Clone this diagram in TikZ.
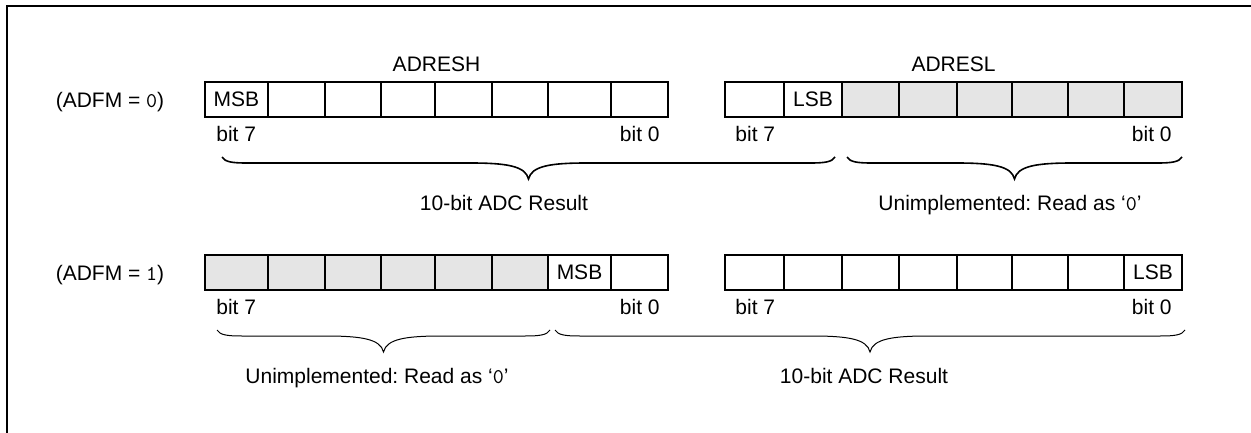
\documentclass[tikz,border=0pt]{standalone}
\usepackage{fontspec}
\setmainfont{Liberation Sans}
\frenchspacing

\tikzset{
  reg/.style={line width=1pt},
  unused/.style={fill=gray!20},
  lbl/.style={font=\fontsize{10.5}{12}\selectfont, inner sep=0pt, anchor=base},
}

% brace below a register: [style]{left x}{right x}{y of the ends}
\newcommand{\bracebelow}[4][]{%
  \draw[#1] (#2,#4) .. controls (#2+3,#4+5) and (#2+10,#4+6) .. (#2+25,#4+6)
    -- ({(#2+#3)/2-58},#4+6)
    .. controls ({(#2+#3)/2-22},#4+6) and ({(#2+#3)/2-3},#4+9) .. ({(#2+#3)/2},#4+22)
    .. controls ({(#2+#3)/2+3},#4+9) and ({(#2+#3)/2+22},#4+6) .. ({(#2+#3)/2+58},#4+6)
    -- (#3-25,#4+6)
    .. controls (#3-10,#4+6) and (#3-3,#4+5) .. (#3,#4);}

\begin{document}
\begin{tikzpicture}[x=0.5pt,y=-0.5pt]
  \useasboundingbox (0,0) rectangle (1251,433);
  \draw[line width=1pt] (6.5,433) -- (6.5,6.5) -- (1251,6.5);

  % shaded bits
  \fill[unused] (842,82) rectangle (1182,117);
  \fill[unused] (205,255) rectangle (548,290);

  % the two registers, for both settings
  \foreach \y in {82,255}{
    \draw[reg] (205,\y) rectangle (668,\y+35);
    \draw[reg] (725,\y) rectangle (1182,\y+35);
    \foreach \x in {268,325,381,435,492,548,611,784,842,899,957,1012,1068,1124}
      \draw[reg] (\x,\y) -- (\x,\y+35);
  }

  \node[lbl] (adresh) at (436.5,72) {ADRESH};
  \node[lbl] (adresl) at (953.5,72) {ADRESL};

  % ADFM = 0
  \node[lbl] (adfm0) at (110,107) {(ADFM = \texttt{0})};
  \node[lbl] (msb0) at (236.5,106.5) {MSB};
  \node[lbl] (lsb0) at (813,106.5) {LSB};
  \node[lbl,anchor=base west] (h7a) at (216,141.5) {bit 7};
  \node[lbl,anchor=base east] (h0a) at (660,141.5) {bit 0};
  \node[lbl,anchor=base west] (l7a) at (735,141.5) {bit 7};
  \node[lbl,anchor=base east] (l0a) at (1172,141.5) {bit 0};
  \bracebelow[line width=0.8pt]{222}{835}{157}
  \bracebelow[line width=0.8pt]{847}{1182}{157}
  \node[lbl] (resa) at (504,210) {10-bit ADC Result};
  \node[lbl] (unia) at (1010,210) {Unimplemented: Read as ‘\texttt{0}’};

  % ADFM = 1
  \node[lbl] (adfm1) at (110,280) {(ADFM = \texttt{1})};
  \node[lbl] (msb1) at (579.5,279.5) {MSB};
  \node[lbl] (lsb1) at (1153,279.5) {LSB};
  \node[lbl,anchor=base west] (h7b) at (216,314.5) {bit 7};
  \node[lbl,anchor=base east] (h0b) at (660,314.5) {bit 0};
  \node[lbl,anchor=base west] (l7b) at (735,314.5) {bit 7};
  \node[lbl,anchor=base east] (l0b) at (1172,314.5) {bit 0};
  \bracebelow[line width=0.5pt]{217}{550}{330}
  \bracebelow[line width=0.5pt]{555}{1185}{330}
  \node[lbl] (unib) at (377,383) {Unimplemented: Read as ‘\texttt{0}’};
  \node[lbl] (resb) at (864,383) {10-bit ADC Result};
\end{tikzpicture}
\end{document}
